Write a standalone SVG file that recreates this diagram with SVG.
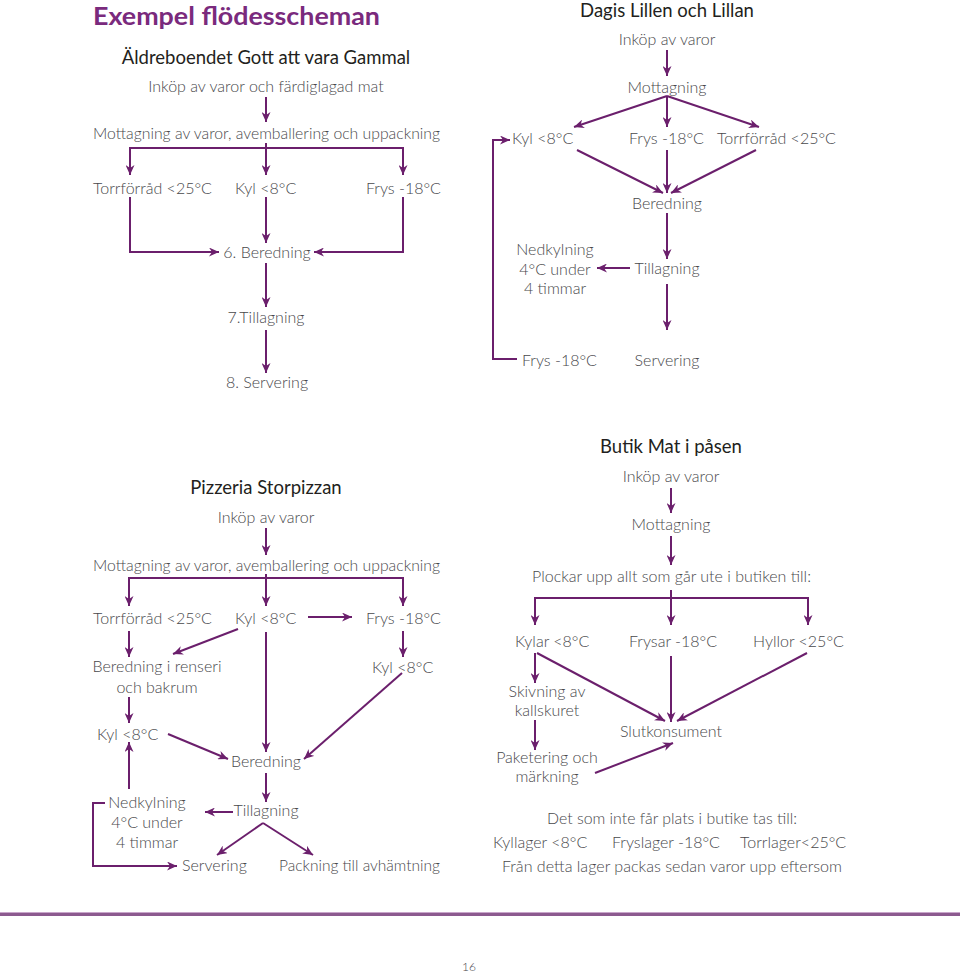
<svg xmlns="http://www.w3.org/2000/svg" width="960" height="973" viewBox="0 0 960 973">
<defs>
<style>
.t{font-family:Lato,"Open Sans","Liberation Sans",sans-serif;font-size:16px;fill:#48484b;font-weight:300}
.h{font-family:Lato,"Open Sans","Liberation Sans",sans-serif;font-size:18.5px;fill:#231f20}
.m{text-anchor:middle}
.title{font-family:Lato,"Open Sans","Liberation Sans",sans-serif;font-size:24px;font-weight:bold;fill:#7a2a7d}
.c path{fill:none;stroke:#6b1f6c;stroke-width:2}
.a{marker-end:url(#ah)}
</style>
<marker id="ah" markerUnits="userSpaceOnUse" markerWidth="11" markerHeight="9" refX="10" refY="4.5" orient="auto">
<path d="M0,0 L10,4.5 L0,9 L3,4.5 z" fill="#6b1f6c"/>
</marker>
</defs>
<rect width="960" height="973" fill="#fff"/>
<text class="title" x="93" y="25" textLength="287" lengthAdjust="spacingAndGlyphs">Exempel flödesscheman</text>

<g id="aldre">
<text id="a-title" class="h m" x="266" y="64">Äldreboendet Gott att vara Gammal</text>
<g id="a-inkop"><text class="t m" x="266" y="92">Inköp av varor och färdiglagad mat</text></g>
<g id="a-mott"><text class="t m" x="266.5" y="139" textLength="347" lengthAdjust="spacingAndGlyphs">Mottagning av varor, avemballering och uppackning</text></g>
<g id="a-torr"><text class="t" x="93" y="194">Torrförråd &lt;25°C</text></g>
<g id="a-kyl"><text class="t" x="235" y="194">Kyl &lt;8°C</text></g>
<g id="a-frys"><text class="t" x="366" y="194">Frys -18°C</text></g>
<g id="a-bered"><text class="t m" x="267" y="258">6. Beredning</text></g>
<g id="a-till"><text class="t m" x="266" y="323">7.Tillagning</text></g>
<g id="a-serv"><text class="t m" x="267" y="388">8. Servering</text></g>
</g>

<g id="dagis">
<text id="d-title" class="h m" x="667" y="17">Dagis Lillen och Lillan</text>
<g id="d-inkop"><text class="t m" x="667" y="45">Inköp av varor</text></g>
<g id="d-mott"><text class="t m" x="667" y="93">Mottagning</text></g>
<g id="d-kyl"><text class="t" x="512" y="144">Kyl &lt;8°C</text></g>
<g id="d-frys"><text class="t" x="629" y="144">Frys -18°C</text></g>
<g id="d-torr"><text class="t" x="717" y="144">Torrförråd &lt;25°C</text></g>
<g id="d-bered"><text class="t m" x="667" y="209">Beredning</text></g>
<g id="d-till"><text class="t m" x="667" y="274">Tillagning</text></g>
<g id="d-ned"><text class="t m" x="555" y="255">Nedkylning</text><text class="t m" x="555" y="275">4°C under</text><text class="t m" x="555" y="294">4 timmar</text></g>
<g id="d-frys2"><text class="t" x="522" y="366">Frys -18°C</text></g>
<g id="d-serv"><text class="t m" x="667" y="366">Servering</text></g>
</g>

<g id="pizza">
<text id="p-title" class="h m" x="266" y="494">Pizzeria Storpizzan</text>
<g id="p-inkop"><text class="t m" x="266" y="523">Inköp av varor</text></g>
<g id="p-mott"><text class="t m" x="266.5" y="571" textLength="347" lengthAdjust="spacingAndGlyphs">Mottagning av varor, avemballering och uppackning</text></g>
<g id="p-torr"><text class="t" x="93" y="624">Torrförråd &lt;25°C</text></g>
<g id="p-kyl"><text class="t" x="235" y="624">Kyl &lt;8°C</text></g>
<g id="p-frys"><text class="t" x="366" y="624">Frys -18°C</text></g>
<g id="p-renseri"><text class="t m" x="157" y="672">Beredning i renseri</text><text class="t m" x="157" y="693">och bakrum</text></g>
<g id="p-kyl3"><text class="t" x="372" y="673">Kyl &lt;8°C</text></g>
<g id="p-kyl2"><text class="t" x="97" y="740">Kyl &lt;8°C</text></g>
<g id="p-bered"><text class="t m" x="266" y="767">Beredning</text></g>
<g id="p-till"><text class="t m" x="266" y="816">Tillagning</text></g>
<g id="p-ned"><text class="t m" x="147" y="808">Nedkylning</text><text class="t m" x="147" y="828">4°C under</text><text class="t m" x="147" y="848">4 timmar</text></g>
<g id="p-serv"><text class="t" x="182" y="871">Servering</text></g>
<g id="p-pack"><text class="t" x="279" y="871" textLength="161" lengthAdjust="spacingAndGlyphs">Packning till avhämtning</text></g>
</g>

<g id="butik">
<text id="b-title" class="h m" x="671" y="453">Butik Mat i påsen</text>
<g id="b-inkop"><text class="t m" x="671" y="482">Inköp av varor</text></g>
<g id="b-mott"><text class="t m" x="671" y="530">Mottagning</text></g>
<g id="b-plock"><text class="t m" x="671.5" y="582" textLength="279" lengthAdjust="spacingAndGlyphs">Plockar upp allt som går ute i butiken till:</text></g>
<g id="b-kylar"><text class="t" x="515" y="647">Kylar &lt;8°C</text></g>
<g id="b-frysar"><text class="t" x="629" y="647">Frysar -18°C</text></g>
<g id="b-hyllor"><text class="t" x="753" y="647">Hyllor &lt;25°C</text></g>
<g id="b-skiv"><text class="t m" x="547" y="697">Skivning av</text><text class="t m" x="547" y="716">kallskuret</text></g>
<g id="b-slut"><text class="t m" x="671" y="737">Slutkonsument</text></g>
<g id="b-paket"><text class="t m" x="547" y="763">Paketering och</text><text class="t m" x="547" y="782">märkning</text></g>
<g id="b-det"><text class="t m" x="672" y="824" textLength="250" lengthAdjust="spacingAndGlyphs">Det som inte får plats i butike tas till:</text></g>
<g id="b-lager"><text class="t" x="493" y="848">Kyllager &lt;8°C</text><text class="t" x="612" y="848">Fryslager -18°C</text><text class="t" x="740" y="848">Torrlager&lt;25°C</text></g>
<g id="b-fran"><text class="t m" x="672" y="872" textLength="340" lengthAdjust="spacingAndGlyphs">Från detta lager packas sedan varor upp eftersom</text></g>
</g>

<g id="connectors" class="c">
<path class="a" d="M266,97 V122"/>
<path class="a" d="M266,148 H130 V175"/>
<path class="a" d="M266,143 V175"/>
<path class="a" d="M266,148 H403 V175"/>
<path class="a" d="M130,197 V252 H219"/>
<path class="a" d="M266,197 V243"/>
<path class="a" d="M403,197 V252 H314"/>
<path class="a" d="M266,263 V307"/>
<path class="a" d="M266,330 V373"/>

<path class="a" d="M667,50 V76"/>
<path class="a" d="M667,96 L574,127"/>
<path class="a" d="M667,96 V127"/>
<path class="a" d="M667,96 L759,127"/>
<path class="a" d="M577,150 L663,193"/>
<path class="a" d="M667,150 V193"/>
<path class="a" d="M756,150 L671,193"/>
<path class="a" d="M517,359 H493 V140 H510"/>
<path class="a" d="M667,213 V259"/>
<path class="a" d="M630,268 H597"/>
<path class="a" d="M667,284 V330"/>

<path class="a" d="M266,528 V555"/>
<path class="a" d="M266,578 H129 V606"/>
<path class="a" d="M266,574 V606"/>
<path class="a" d="M266,578 H403 V606"/>
<path class="a" d="M308,617 H352"/>
<path class="a" d="M129,631 V657"/>
<path class="a" d="M238,629 L173,654"/>
<path class="a" d="M266,632 V752"/>
<path class="a" d="M403,631 V657"/>
<path class="a" d="M129,697 V723"/>
<path class="a" d="M168,734 L228,759"/>
<path class="a" d="M402,673 L304,759"/>
<path class="a" d="M266,773 V802"/>
<path class="a" d="M233,812 H205"/>
<path class="a" d="M129,789 V742"/>
<path class="a" d="M105,803 H93 V866 H177"/>
<path class="a" d="M263,823 L217,855"/>
<path class="a" d="M263,823 L313,855"/>

<path class="a" d="M671,488 V513"/>
<path class="a" d="M671,536 V565"/>
<path class="a" d="M671,598 H535 V625"/>
<path class="a" d="M671,590 V625"/>
<path class="a" d="M671,598 H808 V625"/>
<path class="a" d="M535,653 V683"/>
<path class="a" d="M537,653 L665,721"/>
<path class="a" d="M671,656 V722"/>
<path class="a" d="M807,653 L677,721"/>
<path class="a" d="M535,720 V750"/>
<path class="a" d="M595,773 L673,743"/>
</g>

<line x1="0" y1="912.5" x2="960" y2="912.5" stroke="#c9a6cb" stroke-width="1"/>
<line x1="0" y1="914.5" x2="960" y2="914.5" stroke="#8c5a8f" stroke-width="3"/>
<text class="t m" x="469" y="971" style="font-size:12px">16</text>
</svg>
